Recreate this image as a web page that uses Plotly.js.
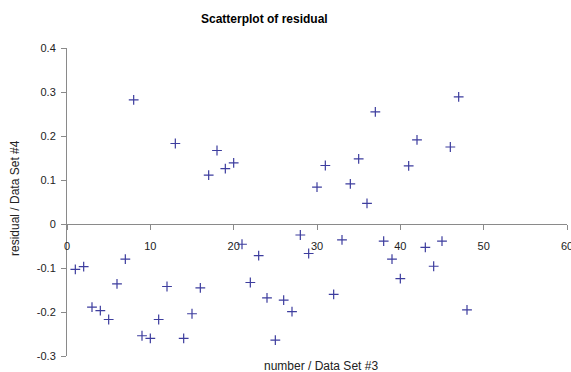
<!DOCTYPE html>
<html>
<head>
<meta charset="utf-8">
<script src="https://cdn.plot.ly/plotly-3.0.1.min.js"></script>
<style>html,body{margin:0;padding:0;background:#fff;}#chart{width:571px;height:372px;}</style>
</head>
<body>
<div id="chart"></div>
<script>
var numbers = [1,2,3,4,5,6,7,8,9,10,11,12,13,14,15,16,17,18,19,20,21,22,23,24,25,26,27,28,29,30,31,32,33,34,35,36,37,38,39,40,41,42,43,44,45,46,47,48];
var residuals = [-0.103,-0.097,-0.189,-0.197,-0.217,-0.136,-0.080,0.282,-0.254,-0.260,-0.217,-0.142,0.183,-0.260,-0.204,-0.145,0.111,0.167,0.126,0.139,-0.046,-0.133,-0.072,-0.168,-0.264,-0.173,-0.199,-0.025,-0.067,0.084,0.133,-0.160,-0.036,0.091,0.148,0.047,0.255,-0.039,-0.080,-0.124,0.132,0.191,-0.053,-0.096,-0.039,0.175,0.289,-0.195];
var yTickVals = [0.4,0.3,0.2,0.1,0,-0.1,-0.2,-0.3];
var yTickText = ["0.4","0.3","0.2","0.1","0","-0.1","-0.2","-0.3"];
var xTickVals = [0,10,20,30,40,50,60];
var xTickText = ["0","10","20","30","40","50","60"];
var chartTitle = "Scatterplot of residual";
var xTitle = "number / Data Set #3";
var yTitle = "residual / Data Set #4";

var font = "Liberation Sans, Arial, sans-serif";
var yMin = -0.3, yMax = 0.4;

var trace = {
  x: numbers, y: residuals, type: "scatter", mode: "markers",
  marker: {symbol: "cross-thin-open", size: 7, line: {color: "#3d3d9e", width: 1.2}, color: "#3d3d9e"},
  hoverinfo: "x+y", showlegend: false, cliponaxis: false
};

var layout = {
  width: 571, height: 372,
  margin: {l: 67, r: 4, t: 48, b: 16},
  paper_bgcolor: "#ffffff", plot_bgcolor: "#ffffff",
  font: {family: font, size: 11, color: "#222"},
  xaxis: {
    range: [0, 60], tickvals: xTickVals, ticktext: xTickText,
    showgrid: false, zeroline: false, showline: true, linecolor: "#8a8a8a", linewidth: 1,
    ticks: "outside", ticklen: 5, tickcolor: "#8a8a8a",
    anchor: "free", position: (0 - yMin) / (yMax - yMin),
    ticklabelstandoff: 7, ticklabeloverflow: "allow",
    tickfont: {family: font, size: 11, color: "#222"}
  },
  yaxis: {
    range: [yMin, yMax], tickvals: yTickVals, ticktext: yTickText,
    showgrid: false, zeroline: false, showline: true, linecolor: "#8a8a8a", linewidth: 1,
    ticks: "outside", ticklen: 5, tickcolor: "#8a8a8a",
    ticklabelstandoff: 3,
    tickfont: {family: font, size: 11, color: "#222"}
  },
  annotations: [
    {text: "<b>" + chartTitle + "</b>", xref: "paper", yref: "paper", x: (264 - 67) / 500, y: 1 + (48 - 19) / 308,
     xanchor: "center", yanchor: "middle", showarrow: false, font: {family: font, size: 12, color: "#000"}},
    {text: xTitle, xref: "paper", yref: "paper", x: (321 - 67) / 500, y: -(366 - 356) / 308,
     xanchor: "center", yanchor: "middle", showarrow: false, font: {family: font, size: 12, color: "#222"}},
    {text: yTitle, xref: "paper", yref: "paper", x: -(67 - 15) / 500, y: (356 - 198) / 308,
     xanchor: "center", yanchor: "middle", textangle: -90, showarrow: false, font: {family: font, size: 12, color: "#222"}}
  ]
};

Plotly.newPlot("chart", [trace], layout, {displayModeBar: false, staticPlot: true});
</script>
</body>
</html>
